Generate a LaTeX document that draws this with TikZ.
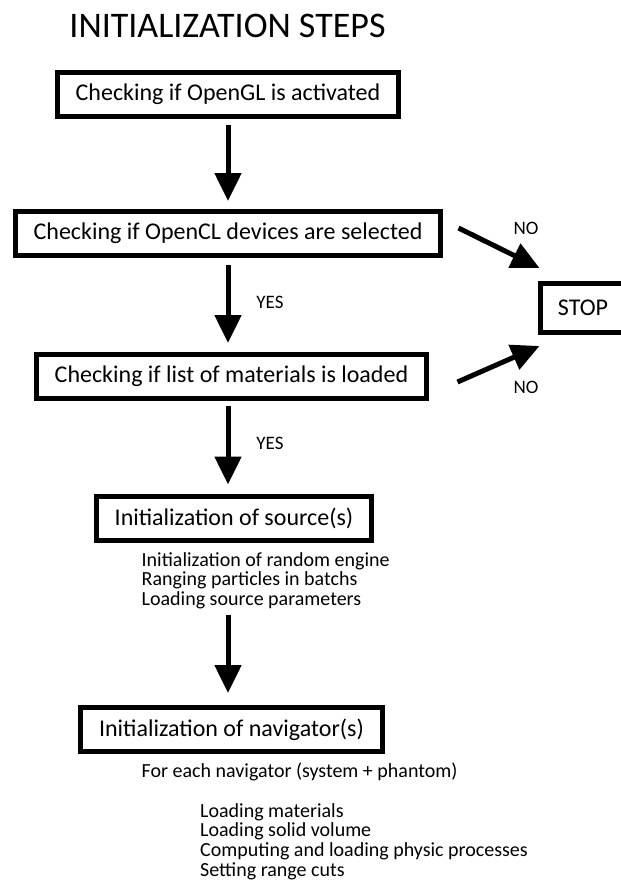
\documentclass[tikz,border=0pt]{standalone}
\usepackage{fontspec}
\setmainfont{Carlito}
\usetikzlibrary{arrows.meta}

\begin{document}
\begin{tikzpicture}[
    x=1pt, y=-1pt,
    stepbox/.style={draw, line width=5pt, inner sep=0pt,
        minimum height=44pt, font=\fontsize{24}{28}\selectfont},
    flow/.style={line width=5pt, -{Triangle[length=28pt,width=26pt]}},
    answer/.style={font=\fontsize{19}{22}\selectfont},
    notes/.style={anchor=west, inner sep=0pt, align=left,
        font=\fontsize{20}{19.7}\selectfont},
  ]
  \useasboundingbox (0,0) rectangle (621,881);
  \node (title) at (227.5,26) {\fontsize{36}{42}\selectfont INITIALIZATION STEPS};
  % main column
  \node [stepbox, minimum width=341pt] (opengl) at (228,94.5)
      {Checking if OpenGL is activated};
  \node [stepbox, minimum width=425pt] (opencl) at (228,233.5)
      {Checking if OpenCL devices are selected};
  \node [stepbox, minimum width=390pt] (materials) at (231.5,376.5)
      {Checking if list of materials is loaded};
  \node [stepbox, minimum width=275pt] (source) at (234,518)
      {Initialization of source(s)};
  \node [stepbox, minimum width=302pt] (navigator) at (231.5,729.5)
      {Initialization of navigator(s)};
  % STOP box runs off the right edge
  \node [stepbox, draw=none, minimum width=81pt] (stop) at (583,308) {STOP};
  \draw [line width=5pt] ([xshift=40pt]stop.north east) -- (stop.north west)
      -- (stop.south west) -- ([xshift=40pt]stop.south east);
  % details
  \node [notes] (sourcesteps) at (141.5,580.5)
      {Initialization of random engine\\
       Ranging particles in batchs\\
       Loading source parameters};
  \node [notes] (foreach) at (141.5,772)
      {For each navigator (system + phantom)};
  \node [notes] (navsteps) at (200,841.5)
      {Loading materials\\
       Loading solid volume\\
       Computing and loading physic processes\\
       Setting range cuts};
  % arrows
  \draw [flow, shorten <=6pt, shorten >=8pt] (opengl.south -| opengl) -- (opencl.north -| opengl);
  \draw [flow, shorten <=7pt, shorten >=9pt] (opencl.south -| opengl) -- (materials.north -| opengl);
  \draw [flow, shorten <=5pt, shorten >=9pt] (materials.south -| opengl) -- (source.north -| opengl);
  \draw [flow, shorten <=72pt, shorten >=12pt] (source.south -| opengl) -- (navigator.north -| opengl);
  \draw [flow] ([xshift=15.5pt,yshift=5.5pt]opencl.east)
      -- ([xshift=-0.5pt,yshift=15.5pt]stop.north west);
  \draw [flow] ([xshift=28.5pt,yshift=-5.5pt]materials.east)
      -- ([xshift=-0.5pt,yshift=-13.5pt]stop.south west);
  % answers
  \node [answer] (no1) at (526,228) {NO};
  \node [answer] (no2) at (526,387) {NO};
  \node [answer] (yes1) at (270,302) {YES};
  \node [answer] (yes2) at (270,443) {YES};
\end{tikzpicture}
\end{document}
